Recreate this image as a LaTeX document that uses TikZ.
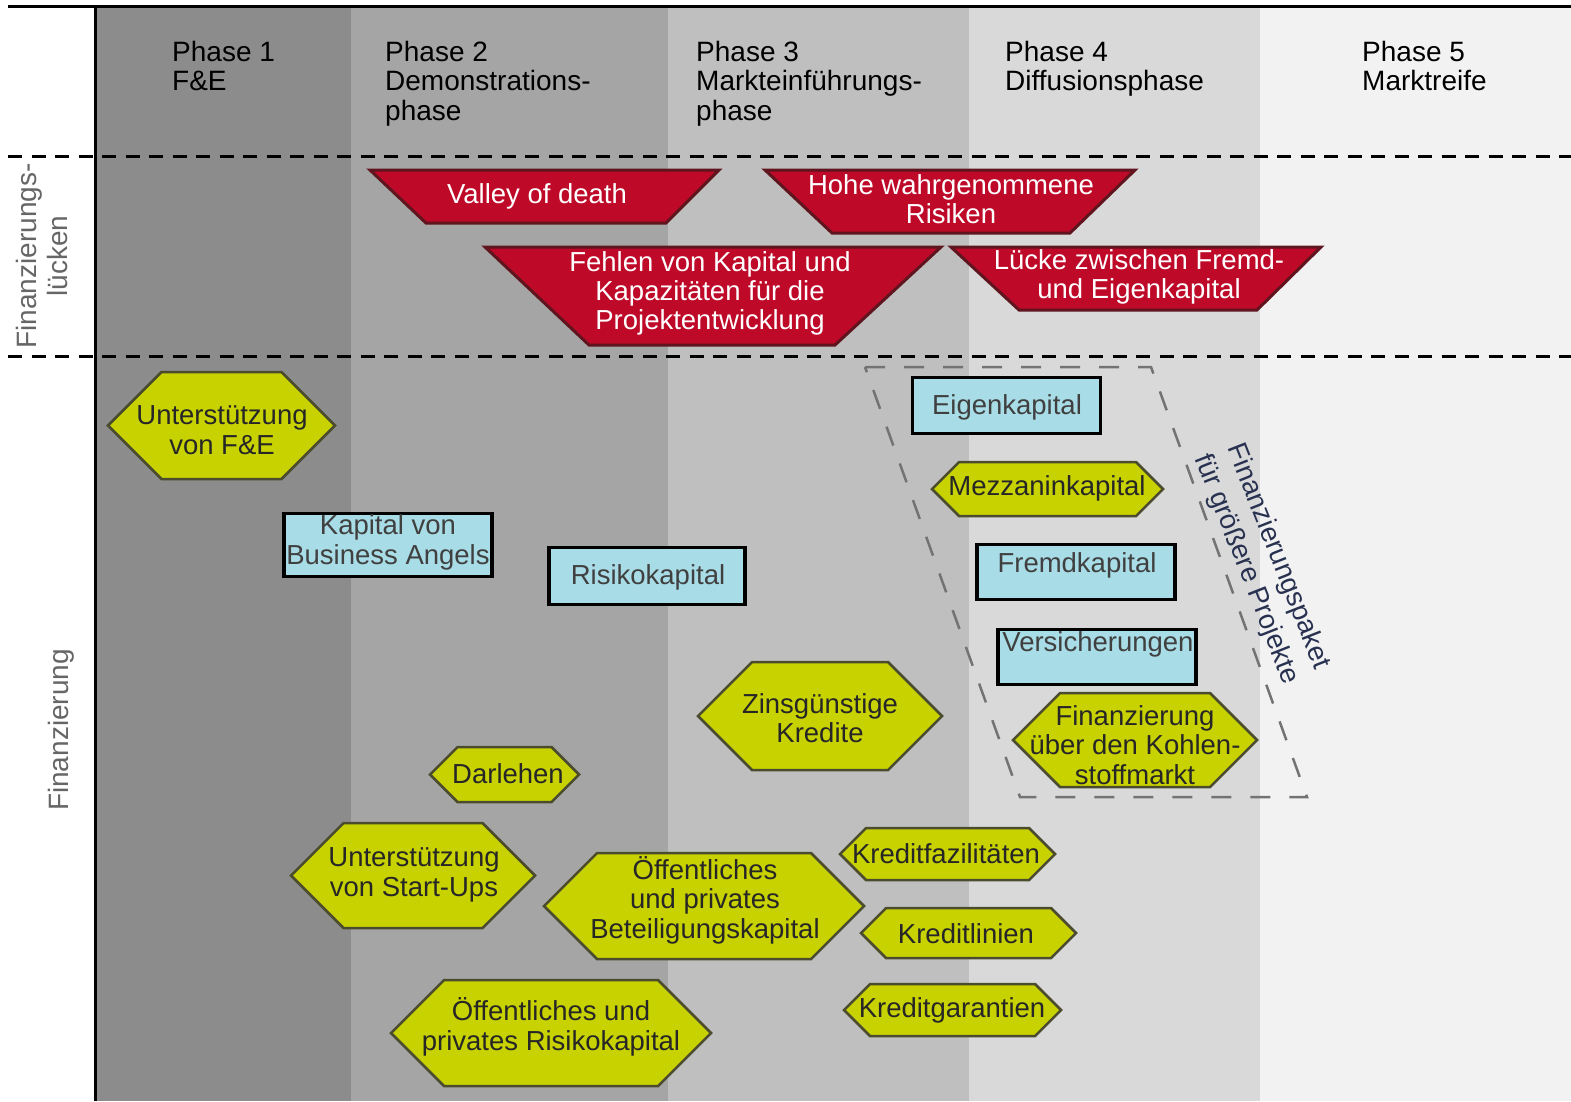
\documentclass[tikz,border=0pt]{standalone}
\usepackage{fontspec}
\setmainfont{Liberation Sans}
\definecolor{bandA}{RGB}{140,140,140}
\definecolor{bandB}{RGB}{165,165,165}
\definecolor{bandC}{RGB}{191,191,191}
\definecolor{bandD}{RGB}{217,217,217}
\definecolor{bandE}{RGB}{242,242,242}
\definecolor{trapred}{RGB}{190,10,40}
\definecolor{trapedge}{RGB}{95,20,30}
\definecolor{hexfill}{RGB}{200,210,0}
\definecolor{hexedge}{RGB}{75,75,45}
\definecolor{boxblue}{RGB}{168,220,230}
\definecolor{pkgtext}{RGB}{40,50,80}
\newcommand{\hexshape}[4]{%
  \pgfmathsetmacro{\hexmid}{(#3+#4)/2}%
  \pgfmathsetmacro{\hexoff}{(#4-#3)/2}%
  \draw[hexstyle] (#1,\hexmid) -- ({#1+\hexoff},#3) -- ({#2-\hexoff},#3) -- (#2,\hexmid) -- ({#2-\hexoff},#4) -- ({#1+\hexoff},#4) -- cycle;}
\tikzset{
  hdr/.style={anchor=north west, align=left, inner sep=0pt, text=black, font=\fontsize{28}{29.5}\selectfont},
  sidelbl/.style={rotate=90, align=center, inner sep=0pt, text=black!60, font=\fontsize{28}{31}\selectfont},
  redtrap/.style={fill=trapred, draw=trapedge, line width=3pt, line join=miter},
  redtext/.style={text=white, align=center, inner sep=0pt, font=\fontsize{27.5}{29}\selectfont},
  hexstyle/.style={fill=hexfill, draw=hexedge, line width=2.5pt, line join=miter},
  hextext/.style={text=black!85, align=center, inner sep=0pt, font=\fontsize{27.5}{29.5}\selectfont},
  bluebox/.style={rectangle, fill=boxblue, draw=black, line width=3.5pt, inner sep=0pt},
  boxtext/.style={text=black!75, align=center, inner sep=0pt, font=\fontsize{27.5}{30}\selectfont},
  gapline/.style={line width=3pt, dash pattern=on 14pt off 9.5pt},
  pkgline/.style={line width=2.5pt, black!55, dash pattern=on 20pt off 19pt},
  pkgtxt/.style={rotate=-68.5, align=center, inner sep=0pt, text=pkgtext, font=\fontsize{27.5}{34}\selectfont}
}
\begin{document}
\begin{tikzpicture}[x=1pt,y=-1pt]
\useasboundingbox (0,0) rectangle (1571,1101);
\fill[white] (0,0) rectangle (1571,1101);
% phase bands
\fill[bandA] (96,6) rectangle (351,1101);
\fill[bandB] (351,6) rectangle (668,1101);
\fill[bandC] (668,6) rectangle (969,1101);
\fill[bandD] (969,6) rectangle (1260,1101);
\fill[bandE] (1260,6) rectangle (1571,1101);
% frame lines
\draw[line width=3pt] (8,6) -- (1571,6);
\draw[line width=3pt] (95,6) -- (95,1101);
\draw[gapline] (8,156) -- (1571,156);
\draw[gapline] (8,356) -- (1571,356);
% headers
\node[hdr] (p1) at (172,41) {Phase 1\\F\&E};
\node[hdr] (p2) at (385,41) {Phase 2\\Demonstrations-\\phase};
\node[hdr] (p3) at (696,41) {Phase 3\\Markteinführungs-\\phase};
\node[hdr] (p4) at (1005,41) {Phase 4\\Diffusionsphase};
\node[hdr] (p5) at (1362,41) {Phase 5\\Marktreife};
% side labels
\node[sidelbl] (lgap) at (42,256) {Finanzierungs-\\lücken};
\node[sidelbl] (lfin) at (61,730) {Finanzierung};
% red trapezoids
\draw[redtrap] (370,170) -- (719,170) -- (666,223) -- (426,223) -- cycle;
\node[redtext] (valley) at (537,196) {Valley of death};
\draw[redtrap] (765,170) -- (1135,170) -- (1070,233) -- (832,233) -- cycle;
\node[redtext] (risiken) at (951,199) {Hohe wahrgenommene\\Risiken};
\draw[redtrap] (485,247) -- (941,247) -- (835,345) -- (589,345) -- cycle;
\node[redtext] (fehlen) at (710,293) {Fehlen von Kapital und\\Kapazitäten für die\\Projektentwicklung};
\draw[redtrap] (951,247) -- (1321,247) -- (1257,310) -- (1019,310) -- cycle;
\node[redtext] (luecke) at (1139,277) {Lücke zwischen Fremd-\\und Eigenkapital};
% package outline
\draw[pkgline] (865,367) -- (1151,367) -- (1307,797) -- (1020,797) -- cycle;
\node[pkgtxt] (pkg) at (1262,563) {Finanzierungspaket\\für größere Projekte};
% hexagons
\hexshape{108}{335}{372}{479}
\node[hextext] (hFE) at (222,430) {Unterstützung\\von F\&E};
\hexshape{430}{579}{747}{802}
\node[hextext] (hDar) at (508,774) {Darlehen};
\hexshape{291}{535}{823}{928}
\node[hextext] (hStart) at (414,875) {Unterstützung\\von Start-Ups};
\hexshape{544}{864}{853}{959}
\node[hextext] (hBet) at (705,900) {Öffentliches\\und privates\\Beteiligungskapital};
\hexshape{391}{711}{980}{1086}
\node[hextext] (hRisk) at (551,1027) {Öffentliches und\\privates Risikokapital};
\hexshape{840}{1055}{828}{880}
\node[hextext] (hFaz) at (946,854) {Kreditfazilitäten};
\hexshape{861}{1076}{908}{958}
\node[hextext] (hLin) at (966,934) {Kreditlinien};
\hexshape{844}{1061}{984}{1036}
\node[hextext] (hGar) at (952,1010) {Kreditgarantien};
\hexshape{698}{942}{662}{770}
\node[hextext] (hZins) at (820,718) {Zinsgünstige\\Kredite};
\hexshape{932}{1163}{462}{516}
\node[hextext] (hMez) at (1047,488) {Mezzaninkapital};
\hexshape{1013}{1257}{693}{787}
\node[hextext] (hKoh) at (1135,745) {Finanzierung\\über den Kohlen-\\stoffmarkt};
% blue boxes
\node[bluebox, minimum width=188pt, minimum height=56pt] (bEig) at (1006.5,405.5) {};
\node[boxtext] (tEig) at (1007,407) {Eigenkapital};
\node[bluebox, minimum width=198pt, minimum height=55pt] (bFre) at (1076,572) {};
\node[boxtext] (tFre) at (1077,565) {Fremdkapital};
\node[bluebox, minimum width=198pt, minimum height=55pt] (bVer) at (1097,657) {};
\node[boxtext] (tVer) at (1098,644) {Versicherungen};
\node[bluebox, minimum width=208pt, minimum height=63pt] (bBA) at (388,545) {};
\node[boxtext] (tBA) at (388,542) {Kapital von\\Business Angels};
\node[bluebox, minimum width=196pt, minimum height=57pt] (bRisk) at (647,576) {};
\node[boxtext] (tRisk) at (648,577) {Risikokapital};
\end{tikzpicture}
\end{document}
